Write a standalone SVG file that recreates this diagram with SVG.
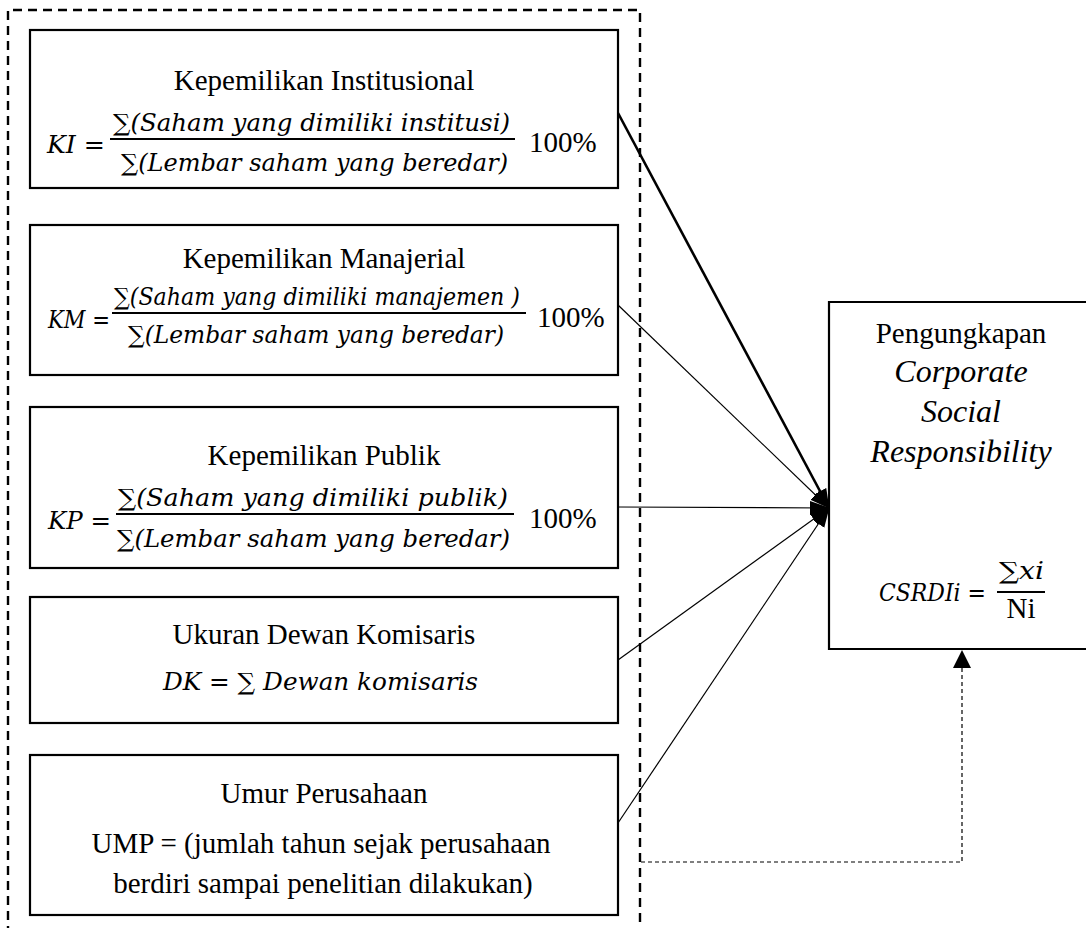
<svg xmlns="http://www.w3.org/2000/svg" width="1086" height="928" viewBox="0 0 1086 928">
<style>
.box{fill:#fff;stroke:#000;stroke-width:2.2}
.t{font-family:"Liberation Serif","Times New Roman",serif;font-size:29px;fill:#000}
.ti{font-family:"Liberation Serif","Times New Roman",serif;font-size:32px;font-style:italic;fill:#000}
.m{font-family:"DejaVu Serif",serif;font-size:24px;font-style:italic;fill:#000}
.c{stroke:#000;stroke-width:1.2;fill:none}
.c.thick{stroke-width:2.6}
.bar{stroke:#000;stroke-width:1.8}
</style>
<defs>
<marker id="ah" markerUnits="userSpaceOnUse" markerWidth="20" markerHeight="16" viewBox="0 0 20 16" refX="19" refY="8" orient="auto">
<path d="M0,1 L20,8 L0,15 Z" fill="#000"/>
</marker>
<marker id="ah2" markerUnits="userSpaceOnUse" markerWidth="18" markerHeight="18" viewBox="0 0 18 18" refX="17" refY="9" orient="auto">
<path d="M0,0 L18,9 L0,18 Z" fill="#000"/>
</marker>
</defs>

<g id="group-frame">
<path d="M8,935 V10 H640 V935" fill="none" stroke="#000" stroke-width="2.4" stroke-dasharray="9 6"/>
</g>

<g id="node-ki">
<rect class="box" x="30" y="30" width="588" height="158"/>
<text class="t" x="324" y="90" text-anchor="middle">Kepemilikan Institusional</text>
<text class="m" x="47" y="153" textLength="58" lengthAdjust="spacingAndGlyphs">KI =</text>
<text class="m" x="113" y="131" textLength="397" lengthAdjust="spacingAndGlyphs">∑(Saham yang dimiliki institusi)</text>
<line class="bar" x1="110" y1="139" x2="515" y2="139"/>
<text class="m" x="121" y="171" textLength="387" lengthAdjust="spacingAndGlyphs">∑(Lembar saham yang beredar)</text>
<text class="t" x="529" y="152">100%</text>
</g>

<g id="node-km">
<rect class="box" x="30" y="225" width="588" height="150"/>
<text class="t" x="324" y="268" text-anchor="middle">Kepemilikan Manajerial</text>
<text class="m" x="48" y="328" textLength="62" lengthAdjust="spacingAndGlyphs">KM =</text>
<text class="m" x="114" y="305" textLength="406" lengthAdjust="spacingAndGlyphs">∑(Saham yang dimiliki manajemen )</text>
<line class="bar" x1="112" y1="313" x2="526" y2="313"/>
<text class="m" x="128" y="343" textLength="376" lengthAdjust="spacingAndGlyphs">∑(Lembar saham yang beredar)</text>
<text class="t" x="537" y="327">100%</text>
</g>

<g id="node-kp">
<rect class="box" x="30" y="407" width="588" height="161"/>
<text class="t" x="324" y="465" text-anchor="middle">Kepemilikan Publik</text>
<text class="m" x="48" y="529" textLength="63" lengthAdjust="spacingAndGlyphs">KP =</text>
<text class="m" x="118" y="506" textLength="390" lengthAdjust="spacingAndGlyphs">∑(Saham yang dimiliki publik)</text>
<line class="bar" x1="116" y1="514" x2="514" y2="514"/>
<text class="m" x="117" y="547" textLength="393" lengthAdjust="spacingAndGlyphs">∑(Lembar saham yang beredar)</text>
<text class="t" x="529" y="528">100%</text>
</g>

<g id="node-dk">
<rect class="box" x="30" y="597" width="588" height="126"/>
<text class="t" x="324" y="644" text-anchor="middle">Ukuran Dewan Komisaris</text>
<text class="m" x="163" y="690" textLength="315" lengthAdjust="spacingAndGlyphs">DK  =  ∑ Dewan komisaris</text>
</g>

<g id="node-ump">
<rect class="box" x="30" y="755" width="588" height="160"/>
<text class="t" x="324" y="803" text-anchor="middle">Umur Perusahaan</text>
<text class="t" x="321" y="853" text-anchor="middle" font-size="30">UMP = (jumlah tahun sejak perusahaan</text>
<text class="t" x="323" y="893" text-anchor="middle" font-size="30">berdiri sampai penelitian dilakukan)</text>
</g>

<g id="node-csr">
<path d="M1092,302 H829 V649 H1092" fill="#fff" stroke="#000" stroke-width="2.2"/>
<text class="t" x="961" y="343" text-anchor="middle" font-size="33">Pengungkapan</text>
<text class="ti" x="961" y="382" text-anchor="middle">Corporate</text>
<text class="ti" x="961" y="422" text-anchor="middle">Social</text>
<text class="ti" x="961" y="462" text-anchor="middle">Responsibility</text>
<text class="m" x="879" y="601" font-size="25" textLength="107" lengthAdjust="spacingAndGlyphs">CSRDIi =</text>
<text class="m" x="999" y="579" font-size="25" textLength="45" lengthAdjust="spacingAndGlyphs">∑xi</text>
<line class="bar" x1="997" y1="592" x2="1045" y2="592"/>
<text class="t" x="1021" y="618" text-anchor="middle">Ni</text>
</g>

<g id="connectors">
<line class="c thick" x1="618" y1="113" x2="829" y2="508" marker-end="url(#ah)"/>
<line class="c" x1="618" y1="305" x2="829" y2="508" marker-end="url(#ah)"/>
<line class="c" x1="618" y1="507" x2="829" y2="508" marker-end="url(#ah)"/>
<line class="c" x1="618" y1="660" x2="829" y2="508" marker-end="url(#ah)"/>
<line class="c" x1="618" y1="823" x2="829" y2="508" marker-end="url(#ah)"/>
<path d="M641,862 H962 V651" fill="none" stroke="#000" stroke-width="1.2" stroke-dasharray="4 3" marker-end="url(#ah2)"/>
</g>
</svg>
